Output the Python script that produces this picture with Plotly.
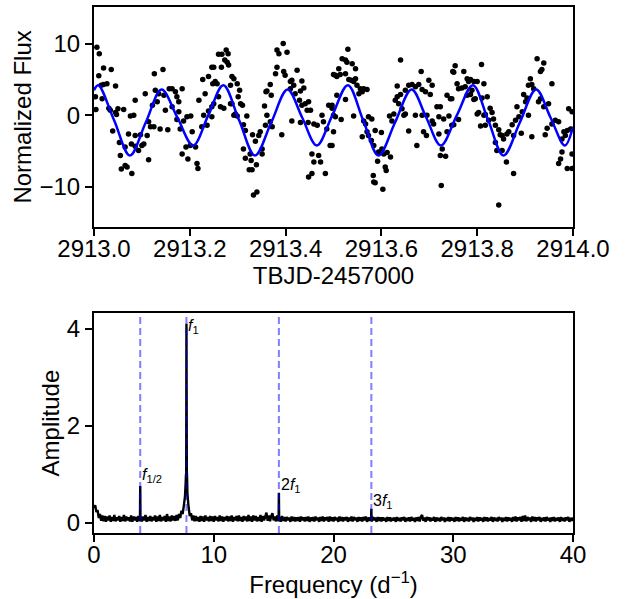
import plotly.graph_objects as go

T0 = 2913.0

# ---- light curve observations (days after T0, normalized flux) ----
obs_t = [
    0.006,0.011,0.020,0.010,0.036,0.027,0.020,0.015,0.045,0.003,
    0.017,0.004,0.031,0.034,0.045,0.050,0.062,0.047,0.039,0.076,
    0.083,0.086,0.072,0.086,0.097,0.053,0.065,0.078,0.086,0.100,
    0.093,0.104,0.055,0.065,0.057,0.069,0.079,0.114,0.107,0.126,
    0.144,0.128,0.135,0.132,0.122,0.114,0.118,0.125,0.111,0.138,
    0.149,0.154,0.146,0.157,0.163,0.170,0.173,0.177,0.184,0.163,
    0.177,0.173,0.180,0.187,0.194,0.202,0.205,0.184,0.196,0.192,
    0.201,0.212,0.215,0.217,0.219,0.227,0.239,0.246,0.248,0.232,
    0.236,0.225,0.229,0.239,0.246,
    0.260,0.267,0.276,0.280,0.273,0.278,0.281,0.266,0.250,0.253,
    0.257,0.288,0.292,0.285,0.299,0.304,0.301,0.288,0.260,0.264,
    0.271,0.250,0.246,0.285,0.306,0.310,0.295,0.299,0.292,0.312,
    0.319,0.316,0.331,0.344,0.347,0.337,0.312,0.351,0.326,0.316,
    0.328,0.339,0.324,0.330,0.333,0.340,0.351,0.358,0.361,0.368,
    0.372,0.356,0.361,0.359,0.370,0.368,0.379,0.382,0.386,0.395,
    0.403,0.382,0.396,0.399,0.413,0.417,0.410,0.410,0.424,0.434,
    0.438,0.431,0.420,0.429,0.434,0.441,0.448,0.445,0.452,0.413,
    0.431,0.392,0.447,0.459,0.466,0.476,0.479,0.486,0.490,0.497,
    0.493,0.455,0.469,0.459,0.473,0.455,0.448,0.483,0.500,
    0.530,0.518,0.525,0.528,0.539,0.511,0.546,0.504,0.507,0.514,
    0.525,0.532,0.537,0.542,0.546,0.549,0.556,0.563,0.570,0.553,
    0.560,0.507,0.525,0.500,0.504,0.516,0.542,0.497,0.500,0.497,
    0.560,0.563,0.567,0.573,0.580,0.570,0.573,0.587,0.600,0.579,
    0.584,0.594,0.601,0.605,0.612,0.619,0.592,0.608,0.610,0.583,
    0.584,0.587,0.603,0.617,0.622,0.626,0.629,0.633,0.640,0.636,
    0.643,0.647,0.650,0.640,0.633,0.650,0.657,0.664,0.671,0.678,
    0.685,0.692,0.702,0.699,0.706,0.683,0.671,0.685,0.695,0.657,
    0.674,0.688,0.694,0.706,0.709,0.716,0.723,0.720,0.730,0.741,
    0.737,0.720,0.727,0.723,0.734,0.747,0.737,0.744,0.749,0.725,
    0.754,0.751,0.772,0.758,0.761,0.768,0.779,0.782,0.786,0.793,
    0.800,0.809,0.814,0.775,0.789,0.779,0.786,0.796,0.793,0.810,
    0.821,0.747,0.751,0.761,0.800,0.803,0.814,0.817,0.827,0.831,
    0.834,0.824,0.817,0.807,0.838,0.845,0.852,0.855,0.848,0.862,
    0.866,0.873,0.876,0.880,0.887,0.883,0.892,0.894,0.901,0.904,
    0.897,0.907,0.911,0.914,0.918,0.925,0.939,0.932,0.935,0.928,
    0.932,0.939,0.949,0.956,0.907,0.914,0.942,0.946,0.956,0.963,
    0.970,0.981,0.988,0.984,0.991,0.998,0.995,0.977,0.974,0.970,
    0.977,0.988,0.998,0.998,0.838,0.841,0.852,0.861,0.876,0.845,
]
obs_flux = [
    9.5,8.6,6.6,5.5,6.4,4.4,4.3,4.2,4.1,2.6,
    2.3,0.8,1.0,0.7,0.4,0.9,0.8,0.1,-2.2,-0.1,
    0.0,2.1,-2.6,-2.8,-2.7,-3.8,-4.4,-4.0,-4.3,-4.2,
    -4.9,-4.0,-5.6,-7.0,-7.5,-7.2,-8.1,-6.2,3.0,5.8,
    6.4,3.5,3.0,1.9,1.4,-0.9,-1.6,-1.6,-2.8,-1.9,
    0.7,-2.0,2.8,3.7,3.7,3.3,2.6,1.9,3.7,1.2,
    0.5,-0.6,-1.9,-0.8,-0.2,-0.1,-2.3,-5.4,-6.1,-4.4,
    -4.2,-4.4,-6.7,-7.4,2.1,5.0,5.4,6.7,4.4,3.0,
    -1.4,-1.6,0.0,0.6,1.2,
    8.5,8.5,9.1,8.6,7.7,7.4,7.0,6.7,6.7,4.7,
    4.4,5.4,5.1,4.2,4.4,3.5,2.6,1.6,2.6,1.2,
    1.0,1.6,-0.2,1.6,1.6,1.4,0.2,-0.1,0.0,-1.3,
    -0.1,-2.1,-2.7,-2.8,-2.3,-3.6,-4.7,-4.7,-5.4,-6.0,
    -6.3,-6.9,-7.6,-7.6,-11.1,-10.7,-5.4,-1.4,0.0,-0.9,
    -1.6,1.3,3.4,3.3,2.8,4.3,5.8,9.1,8.6,10.0,
    8.8,6.7,6.1,5.6,4.9,4.2,4.7,3.7,6.3,4.8,
    3.8,3.4,3.0,2.1,1.4,1.6,1.9,0.7,0.7,-0.8,
    -1.0,-2.7,-1.0,-1.2,-1.4,0.0,-0.9,-1.9,1.4,1.0,
    -4.2,-5.4,-5.6,-6.5,-6.5,-8.1,-8.6,-8.1,5.7,
    9.2,7.9,7.7,7.4,7.2,6.5,6.5,5.6,5.4,5.7,
    5.8,5.0,4.9,4.7,5.1,4.2,3.7,3.7,3.6,3.0,
    3.3,2.8,2.2,0.0,-0.2,-0.6,-0.1,1.4,-2.3,-4.2,
    -3.0,-0.8,-1.2,-0.2,-0.5,-2.3,-2.8,-2.1,-2.4,-3.5,
    -4.2,-5.1,-4.7,-5.4,-5.2,-5.8,-6.4,-7.2,-7.7,-8.4,
    -9.3,-9.4,-10.3,-0.1,-0.8,0.2,2.1,2.6,2.9,1.6,
    0.9,0.0,0.2,7.7,4.1,3.5,4.2,4.3,4.0,4.3,
    3.6,3.3,2.9,4.9,4.2,6.1,0.0,0.0,0.0,-2.2,
    -4.2,-2.3,-2.8,-0.8,-1.2,1.2,1.2,-0.2,-0.5,-0.1,
    -2.3,-2.6,-4.7,-5.6,-5.7,-1.4,2.8,2.3,6.1,-9.8,
    6.9,6.0,6.1,4.4,3.7,3.8,5.1,4.7,5.0,4.7,
    4.7,7.1,4.4,4.0,3.5,2.8,2.9,2.3,2.2,2.4,
    2.6,2.3,-1.3,-0.6,0.2,0.4,0.0,0.1,1.0,0.4,
    -0.5,-0.7,-1.4,-1.5,-1.4,-2.0,-2.8,-3.3,-2.7,-2.6,
    -2.3,-1.3,-2.8,-0.7,-0.2,1.2,-2.5,0.5,1.9,2.4,
    2.9,4.2,5.1,4.3,3.7,7.9,7.3,6.1,6.4,1.9,
    2.3,1.2,1.6,4.4,0.0,-3.0,-2.7,-1.8,-1.2,-0.7,
    -0.9,-2.3,-2.1,-2.8,0.9,0.5,-1.9,-3.3,-6.1,-6.7,
    -5.1,-7.4,-7.4,-5.4,-3.8,-4.9,-4.9,-6.5,-8.1,-12.5,
]

# ---- fitted model curve (read at extrema and mid points) ----
model_t = [0.0, 0.009, 0.042, 0.075, 0.108, 0.141, 0.174, 0.207, 0.2385, 0.270,
           0.303, 0.336, 0.370, 0.404, 0.4345, 0.465, 0.4975, 0.530, 0.562, 0.594,
           0.6285, 0.663, 0.6935, 0.724, 0.7575, 0.791, 0.823, 0.855, 0.889, 0.923,
           0.953, 0.983, 1.0]
model_flux = [3.5, 4.2, -0.7, -5.6, -1.0, 3.6, -0.3, -4.2, 0.0, 4.2,
              -0.7, -5.6, -1.0, 3.6, -0.3, -4.2, 0.0, 4.2, -0.7, -5.6,
              -1.0, 3.6, -0.3, -4.2, 0.0, 4.2, -0.7, -5.6, -1.0, 3.6,
              -0.3, -4.2, -1.6]

# ---- amplitude spectrum: background on a 0.1 d^-1 grid (0 .. 40) ----
noise_amp = [
    0.30,0.36,0.22,0.26,0.10,0.18,0.04,0.15,0.03,0.14,
    0.02,0.13,0.05,0.15,0.02,0.12,0.04,0.16,0.03,0.11,
    0.05,0.14,0.02,0.12,0.04,0.16,0.03,0.13,0.05,0.11,
    0.03,0.15,0.02,0.13,0.05,0.12,0.02,0.14,0.04,0.11,
    0.03,0.13,0.05,0.16,0.02,0.12,0.04,0.14,0.03,0.12,
    0.05,0.15,0.02,0.13,0.04,0.16,0.03,0.12,0.05,0.14,
    0.02,0.18,0.04,0.13,0.03,0.15,0.05,0.14,0.04,0.16,
    0.05,0.18,0.10,0.25,0.18,0.35,0.55,0.95,0.60,0.32,
    0.14,0.20,0.05,0.15,0.03,0.14,0.04,0.12,0.02,0.14,
    0.04,0.13,0.02,0.15,0.05,0.12,0.03,0.14,0.04,0.13,
    0.02,0.14,0.05,0.12,0.03,0.15,0.04,0.13,0.02,0.12,
    0.05,0.14,0.03,0.13,0.04,0.15,0.02,0.12,0.05,0.14,
    0.03,0.15,0.04,0.12,0.02,0.14,0.05,0.13,0.03,0.16,
    0.04,0.13,0.02,0.15,0.05,0.14,0.03,0.12,0.04,0.16,
    0.02,0.14,0.05,0.13,0.21,0.04,0.15,0.03,0.14,0.20,
    0.05,0.13,0.03,0.15,0.04,0.12,0.02,0.14,0.04,0.12,
    0.03,0.12,0.05,0.11,0.02,0.13,0.04,0.12,0.03,0.11,
    0.04,0.12,0.02,0.13,0.05,0.11,0.03,0.12,0.04,0.13,
    0.02,0.11,0.04,0.12,0.03,0.13,0.05,0.11,0.02,0.12,
    0.04,0.13,0.03,0.11,0.05,0.12,0.02,0.13,0.04,0.11,
    0.03,0.12,0.05,0.11,0.02,0.13,0.04,0.12,0.03,0.11,
    0.05,0.12,0.02,0.11,0.04,0.13,0.03,0.12,0.05,0.11,
    0.02,0.12,0.04,0.11,0.03,0.12,0.05,0.13,0.02,0.11,
    0.04,0.11,0.03,0.12,0.05,0.11,0.02,0.12,0.04,0.11,
    0.03,0.11,0.05,0.10,0.02,0.12,0.04,0.11,0.03,0.10,
    0.05,0.11,0.02,0.12,0.04,0.10,0.03,0.11,0.05,0.12,
    0.02,0.10,0.04,0.11,0.03,0.12,0.05,0.10,0.02,0.11,
    0.04,0.12,0.03,0.13,0.16,0.04,0.11,0.02,0.12,0.05,
    0.11,0.03,0.10,0.05,0.12,0.02,0.11,0.04,0.10,0.03,
    0.12,0.05,0.11,0.02,0.10,0.04,0.12,0.03,0.11,0.05,
    0.10,0.02,0.12,0.04,0.11,0.03,0.10,0.05,0.12,0.02,
    0.11,0.04,0.10,0.03,0.12,0.05,0.11,0.02,0.10,0.04,
    0.12,0.03,0.11,0.05,0.10,0.02,0.12,0.04,0.11,0.03,
    0.10,0.05,0.12,0.02,0.11,0.04,0.10,0.03,0.12,0.05,
    0.11,0.02,0.10,0.04,0.12,0.03,0.11,0.05,0.10,0.02,
    0.12,0.04,0.13,0.03,0.11,0.05,0.12,0.02,0.14,0.04,
    0.15,0.03,0.12,0.05,0.11,0.02,0.13,0.04,0.12,0.03,
    0.11,0.05,0.12,0.02,0.10,0.04,0.11,0.03,0.12,0.05,
    0.10,0.02,0.11,0.04,0.12,0.03,0.10,0.05,0.11,0.02,
    0.12,0.04,0.10,0.03,0.11,0.05,0.12,0.02,0.10,0.04,
    0.11,
]
FREQ_STEP = 0.1

# ---- narrow peaks ----
peak_freq = [3.84, 3.86, 3.88, 7.66, 7.68, 7.72, 7.75, 7.78,
             15.42, 15.44, 15.46, 23.14, 23.16, 23.18]
peak_amp = [0.10, 0.76, 0.12, 0.85, 1.00, 4.10, 1.10, 0.85,
            0.12, 0.62, 0.10, 0.08, 0.29, 0.07]

# ---- marked frequencies and labels ----
mark_freq = [3.86, 7.72, 15.44, 23.16]
mark_labels = ["<i>f</i><sub>1/2</sub>", "<i>f</i><sub>1</sub>",
               "2<i>f</i><sub>1</sub>", "3<i>f</i><sub>1</sub>"]
label_x = [3.9, 7.78, 15.5, 23.22]
label_y = [0.76, 3.82, 0.56, 0.22]

top_ticks = [2913.0, 2913.2, 2913.4, 2913.6, 2913.8, 2914.0]
top_yticks = [-10, 0, 10]
bot_xticks = [0, 10, 20, 30, 40]
bot_yticks = [0, 2, 4]

FONT = "Liberation Sans"
FS = 24

grid_freq = [round(i * FREQ_STEP, 2) for i in range(len(noise_amp))]
spec = sorted(zip(grid_freq + peak_freq, noise_amp + peak_amp))
spec_f = [p[0] for p in spec]
spec_a = [p[1] for p in spec]

fig = go.Figure()
fig.add_trace(go.Scatter(
    x=[T0 + t for t in obs_t], y=obs_flux, mode="markers",
    marker=dict(color="black", size=5.5), xaxis="x", yaxis="y", showlegend=False))
fig.add_trace(go.Scatter(
    x=[T0 + t for t in model_t], y=model_flux, mode="lines",
    line=dict(color="#0000ff", width=2.5, shape="spline", smoothing=1.0),
    xaxis="x", yaxis="y", showlegend=False))
fig.add_trace(go.Scatter(
    x=spec_f, y=spec_a, mode="lines",
    line=dict(color="black", width=2.4, simplify=False),
    xaxis="x2", yaxis="y2", showlegend=False))

for f in mark_freq:
    fig.add_shape(type="line", xref="x2", yref="y2 domain", x0=f, x1=f, y0=0, y1=1,
                  line=dict(color="rgba(0,0,255,0.5)", width=2, dash="7px,4px"),
                  layer="above")

for txt, x, y in zip(mark_labels, label_x, label_y):
    fig.add_annotation(x=x, y=y, xref="x2", yref="y2", text=txt, showarrow=False,
                       xanchor="left", yanchor="bottom", borderpad=0,
                       font=dict(family=FONT, size=16, color="black"))

axis_common = dict(showline=True, mirror=True, linecolor="black", linewidth=2,
                   ticks="outside", ticklen=7, tickwidth=1.5, tickcolor="black",
                   showgrid=False, zeroline=False, automargin=False,
                   tickfont=dict(family=FONT, size=FS, color="black"),
                   title_font=dict(family=FONT, size=FS, color="black"))

fig.update_layout(
    width=626, height=599,
    margin=dict(l=94, r=53, t=7, b=66),
    paper_bgcolor="white", plot_bgcolor="white",
    xaxis=dict(domain=[0, 1], anchor="y", range=[2913.0, 2914.0],
               tickvals=top_ticks, tickformat=".1f", ticklabelstandoff=-8,
               title=dict(text="TBJD-2457000", standoff=3), **axis_common),
    yaxis=dict(domain=[0.582, 1], anchor="x", range=[-15.55, 15.1],
               tickvals=top_yticks,
               title=dict(text="Normalized Flux", standoff=1), **axis_common),
    xaxis2=dict(domain=[0, 1], anchor="y2", range=[0, 40], tickvals=bot_xticks,
                ticklabelstandoff=-8,
                title=dict(text="Frequency (d<sup>−1</sup>)", standoff=3), **axis_common),
    yaxis2=dict(domain=[0, 0.418], anchor="x2", range=[-0.21, 4.32],
                tickvals=bot_yticks,
                title=dict(text="Amplitude", standoff=0), **axis_common),
)

fig.write_html("out.html", config={"displayModeBar": False},
               post_script="document.body.style.margin='0px';")
